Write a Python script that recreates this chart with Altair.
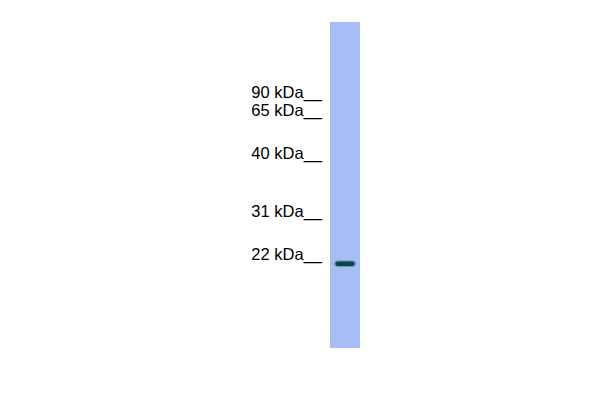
import altair as alt
import pandas as pd

# Molecular weight ladder (labels and their migration positions, px from top)
marker_labels = ["90 kDa__", "65 kDa__", "40 kDa__", "31 kDa__", "22 kDa__"]
marker_pos = [98, 116, 159, 217, 260]

# Lane extent (px)
lane_left = [330]
lane_right = [360]
lane_top = [22]
lane_bottom = [348]

# Detected band
band_left = [334]
band_right = [356]
band_top = [260.5]
band_bottom = [267]

xs = alt.Scale(domain=[8, 592])
ys = alt.Scale(domain=[8, 392], reverse=True)

markers = pd.DataFrame({"label": marker_labels, "y": marker_pos})
lane = pd.DataFrame({"x": lane_left, "x2": lane_right, "y": lane_top, "y2": lane_bottom})
band = pd.DataFrame({"x": band_left, "x2": band_right, "y": band_top, "y2": band_bottom})

lane_layer = alt.Chart(lane).mark_rect(color="#a6bdf5").encode(
    x=alt.X("x:Q", scale=xs, axis=None),
    x2="x2:Q",
    y=alt.Y("y:Q", scale=ys, axis=None),
    y2="y2:Q",
)

band_halo = alt.Chart(band).mark_rect(color="#4f8595", cornerRadius=3.5, opacity=0.7).encode(
    x=alt.X("x:Q", scale=xs, axis=None),
    x2="x2:Q",
    y=alt.Y("y:Q", scale=ys, axis=None),
    y2="y2:Q",
)

band_core = alt.Chart(band).mark_rect(color="#0c454c", cornerRadius=2.5).encode(
    x=alt.X("x:Q", scale=xs, axis=None),
    x2="x2:Q",
    y=alt.Y("y:Q", scale=ys, axis=None),
    y2="y2:Q",
).transform_calculate(
    x="datum.x + 1.5", x2="datum.x2 - 1.5", y="datum.y + 1", y2="datum.y2 - 1"
)

text_layer = alt.Chart(markers).mark_text(
    align="right", baseline="alphabetic", font="Liberation Sans", fontSize=16.5, color="#000000"
).encode(
    x=alt.value(314),
    y=alt.Y("y:Q", scale=ys, axis=None),
    text="label:N",
)

chart = alt.layer(lane_layer, band_halo, band_core, text_layer).properties(
    width=584, height=384, padding=0, background="#ffffff",
    autosize=alt.AutoSizeParams(type="none"),
).configure_view(strokeWidth=0)

chart.save("out.html", embed_options={"renderer": "svg", "actions": False})
